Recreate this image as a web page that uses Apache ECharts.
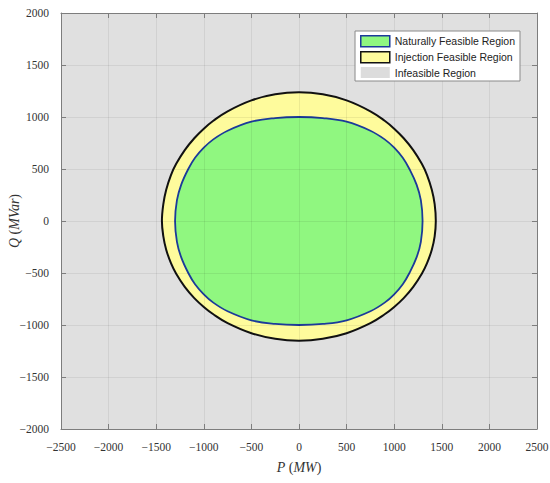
<!DOCTYPE html>
<html>
<head>
<meta charset="utf-8">
<script src="https://cdn.jsdelivr.net/npm/echarts@6/dist/echarts.min.js"></script>
<style>
html,body{margin:0;padding:0;background:#fff;}
#c{width:550px;height:483px;}
</style>
</head>
<body>
<div id="c"></div>
<script>
const xTickLabels = ['\u22122500','\u22122000','\u22121500','\u22121000','\u2212500','0','500','1000','1500','2000','2500'];
const yTickLabels = ['\u22122000','\u22121500','\u22121000','\u2212500','0','500','1000','1500','2000'];
const seriesNames = ['Naturally Feasible Region','Injection Feasible Region','Infeasible Region'];

// Injection feasible region boundary (outer, black)
const injectionP = [0,250,500,750,900,1000,1100,1200,1290,1345,1395,1425,1437,
  1425,1395,1345,1290,1200,1100,1000,900,750,500,250,
  0,
  -250,-500,-750,-900,-1000,-1100,-1200,-1290,-1345,-1395,-1425,
  -1440,
  -1425,-1395,-1345,-1290,-1200,-1100,-1000,-900,-750,-500,-250];
const injectionQ = [1237,1218,1160,1055,964,888,796,682,550,442,300,162,0,
  -148,-276,-405,-507,-633,-741,-826,-897,-982,-1079,-1133,
  -1151,
  -1133,-1079,-982,-897,-826,-741,-633,-507,-405,-276,-148,
  0,
  162,300,442,550,682,796,888,964,1055,1160,1218];

// Naturally feasible region boundary (inner, blue)
const naturalP = [0,250,500,750,900,1000,1090,1160,1235,1280,1298,
  1280,1235,1160,1090,1000,900,750,500,250,
  0,
  -250,-500,-750,-900,-1000,-1092,-1163,-1237,-1282,
  -1302,
  -1282,-1237,-1163,-1092,-1000,-900,-750,-500,-250];
const naturalQ = [1000,990,955,868,785,705,608,500,350,200,0,
  -200,-350,-500,-608,-705,-785,-868,-955,-990,
  -1000,
  -990,-955,-868,-785,-705,-608,-500,-350,-200,
  0,
  200,350,500,608,705,785,868,955,990];

const GREEN = '#90f780', BLUE = '#1b3a9a', YELLOW = '#fefb9c', BLACK = '#111111', GRAY = '#e0e0e0';

function polySeries(name, P, Q, fill, stroke, lw) {
  const data = P.map((p, i) => [p, Q[i]]);
  return {
    type: 'custom', name: name, data: data, encode: {x: 0, y: 1},
    itemStyle: {color: fill, borderColor: stroke, borderWidth: lw},
    z: 2,
    renderItem: function (params, api) {
      if (params.dataIndex !== 0) return null;
      const pts = data.map(d => api.coord(d));
      return {type: 'polygon', shape: {points: pts, smooth: 0.4},
        style: {fill: fill, stroke: stroke, lineWidth: lw}};
    }
  };
}

const axisColor = '#7d7d7d';
const labelFont = {fontFamily: 'Liberation Serif', fontSize: 11.5, color: '#333'};
const splitColor = 'rgba(0,0,0,0.065)';

const chart = echarts.init(document.getElementById('c'), null, {renderer: 'svg'});
chart.setOption({
  animation: false,
  backgroundColor: '#fff',
  grid: {left: 61, right: 13, top: 13, bottom: 54, show: true, backgroundColor: GRAY, borderWidth: 0,
    containLabel: false, outerBoundsMode: 'none'},
  legend: {
    orient: 'vertical', right: 30, top: 31, align: 'left',
    backgroundColor: '#fff', borderColor: '#8a8a8a', borderWidth: 1,
    padding: [4, 5, 3, 5], itemGap: 3.5, itemWidth: 29, itemHeight: 11, icon: 'rect',
    textStyle: {fontFamily: 'Liberation Sans', fontSize: 10.5, color: '#222'},
    data: [
      {name: seriesNames[0], itemStyle: {color: GREEN, borderColor: BLUE, borderWidth: 1.5}},
      {name: seriesNames[1], itemStyle: {color: YELLOW, borderColor: BLACK, borderWidth: 1.5}},
      {name: seriesNames[2], itemStyle: {color: '#dcdcdc', borderWidth: 0}}
    ]
  },
  xAxis: [
    {
      type: 'value', min: -2500, max: 2500, interval: 500, position: 'bottom', z: 3,
      axisLine: {show: true, onZero: false, lineStyle: {color: axisColor, width: 1}},
      axisTick: {show: true, inside: true, length: 5, lineStyle: {color: axisColor}},
      axisLabel: Object.assign({margin: 12, formatter: (v, i) => xTickLabels[i]}, labelFont),
      splitLine: {show: true, lineStyle: {color: splitColor, width: 1}},
      name: '{i|P} ({i|MW})', nameLocation: 'middle', nameGap: 31, nameMoveOverlap: false,
      nameTextStyle: {fontFamily: 'Liberation Serif', fontSize: 14, color: '#333',
        rich: {i: {fontFamily: 'Liberation Serif', fontStyle: 'italic', fontSize: 14, color: '#333'}}}
    },
    {
      type: 'value', min: -2500, max: 2500, interval: 500, position: 'top', z: 3,
      axisLine: {show: true, onZero: false, lineStyle: {color: axisColor, width: 1}},
      axisTick: {show: true, inside: true, length: 5, lineStyle: {color: axisColor}},
      axisLabel: {show: false}, splitLine: {show: false}
    }
  ],
  yAxis: [
    {
      type: 'value', min: -2000, max: 2000, interval: 500, position: 'left', z: 3,
      axisLine: {show: true, onZero: false, lineStyle: {color: axisColor, width: 1}},
      axisTick: {show: true, inside: true, length: 5, lineStyle: {color: axisColor}},
      axisLabel: Object.assign({margin: 12, formatter: (v, i) => yTickLabels[i]}, labelFont),
      splitLine: {show: true, lineStyle: {color: splitColor, width: 1}},
      name: '{i|Q} ({i|MVar})', nameLocation: 'middle', nameGap: 40, nameMoveOverlap: false,
      nameTextStyle: {fontFamily: 'Liberation Serif', fontSize: 14, color: '#333',
        rich: {i: {fontFamily: 'Liberation Serif', fontStyle: 'italic', fontSize: 14, color: '#333'}}}
    },
    {
      type: 'value', min: -2000, max: 2000, interval: 500, position: 'right', z: 3,
      axisLine: {show: true, onZero: false, lineStyle: {color: axisColor, width: 1}},
      axisTick: {show: true, inside: true, length: 5, lineStyle: {color: axisColor}},
      axisLabel: {show: false}, splitLine: {show: false}
    }
  ],
  series: [
    polySeries(seriesNames[1], injectionP, injectionQ, YELLOW, BLACK, 2),
    polySeries(seriesNames[0], naturalP, naturalQ, GREEN, BLUE, 1.8),
    {type: 'custom', name: seriesNames[2], data: [], itemStyle: {color: '#dcdcdc'},
      renderItem: function () { return null; }}
  ]
});
</script>
</body>
</html>
